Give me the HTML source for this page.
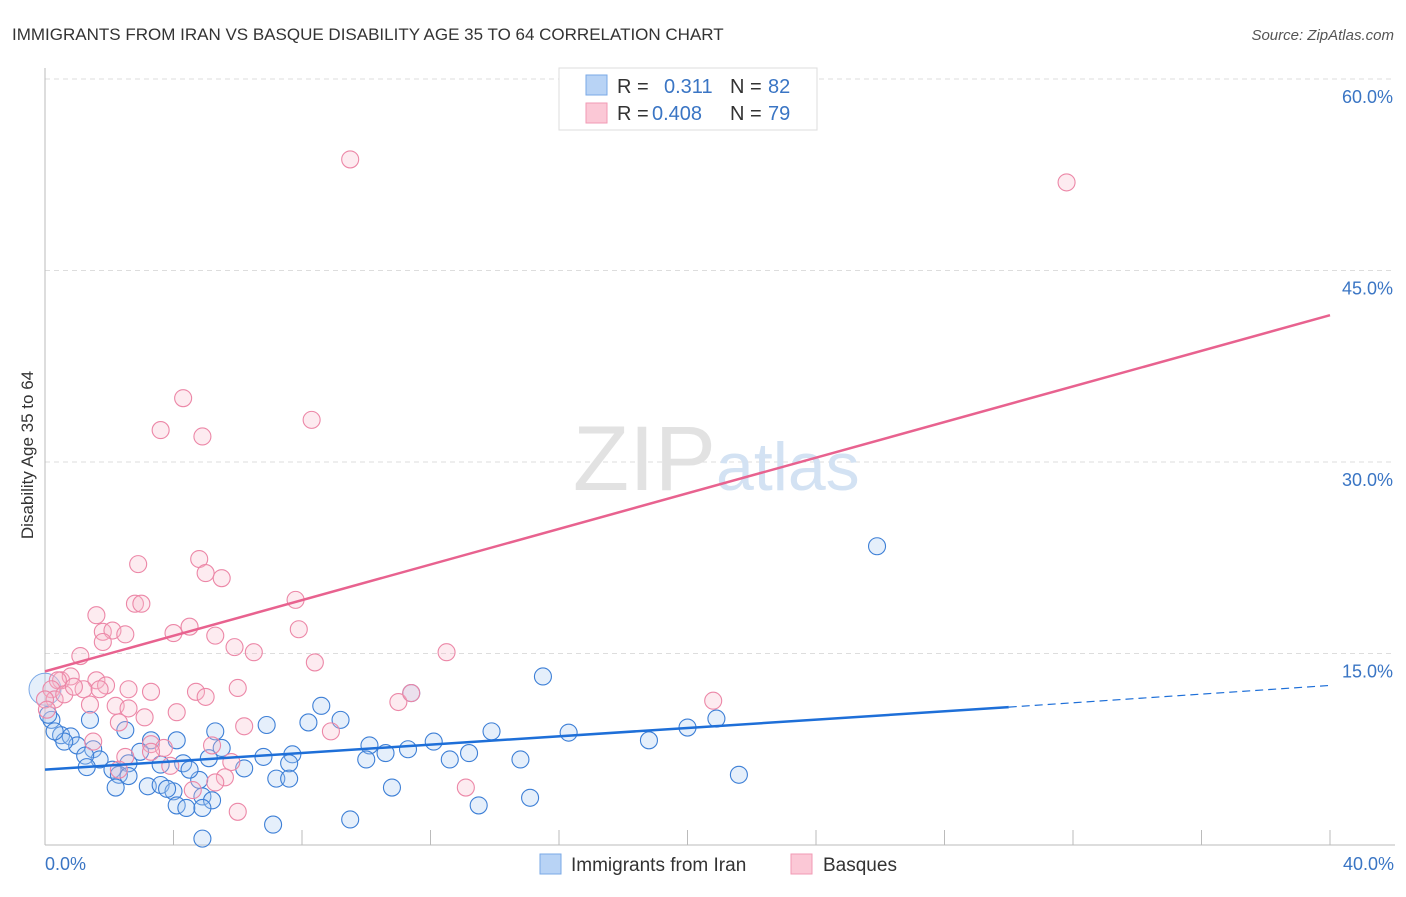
<!DOCTYPE html>
<html><head><meta charset="utf-8">
<style>
body{margin:0;background:#fff;font-family:"Liberation Sans",sans-serif;}
svg text{font-family:"Liberation Sans",sans-serif;}
</style></head>
<body>
<svg id="chart" width="1406" height="892" viewBox="0 0 1406 892" xmlns="http://www.w3.org/2000/svg">
<text x="12" y="40" font-size="17" fill="#333">IMMIGRANTS FROM IRAN VS BASQUE DISABILITY AGE 35 TO 64 CORRELATION CHART</text>
<text x="1394" y="40" font-size="15" fill="#555" font-style="italic" text-anchor="end">Source: ZipAtlas.com</text>
<g id="grid"></g>
<text x="716" y="490" font-size="92" fill="#e2e2e2" text-anchor="end" font-family="Liberation Serif">ZIP</text>
<text x="716" y="490" font-size="68" fill="#d3e2f3">atlas</text>
<g id="axes"></g>
<g id="blue"></g>
<g id="pink"></g>
<g id="lines"></g>
<text transform="translate(33,455) rotate(-90)" font-size="17" fill="#333" text-anchor="middle">Disability Age 35 to 64</text>
<text x="45" y="870" font-size="18" fill="#3a75c4">0.0%</text>
<text x="1394" y="870" font-size="18" fill="#3a75c4" text-anchor="end">40.0%</text>
<g>
<rect x="559" y="68" width="258" height="62" fill="#fff" stroke="#ddd"/>
<rect x="586" y="75" width="21" height="20" fill="#b8d3f5" stroke="#7aa8e6"/>
<rect x="586" y="103" width="21" height="20" fill="#fbc8d6" stroke="#f29ab4"/>
<text x="617" y="93" font-size="20" fill="#333">R = </text><text x="664" y="93" font-size="20" fill="#3a75c4">0.311</text>
<text x="730" y="93" font-size="20" fill="#333">N = </text><text x="768" y="93" font-size="20" fill="#3a75c4">82</text>
<text x="617" y="120" font-size="20" fill="#333">R = </text><text x="652" y="120" font-size="20" fill="#3a75c4">0.408</text>
<text x="730" y="120" font-size="20" fill="#333">N = </text><text x="768" y="120" font-size="20" fill="#3a75c4">79</text>
</g>
<g>
<rect x="540" y="854" width="21" height="20" fill="#b8d3f5" stroke="#7aa8e6"/>
<text x="571" y="871" font-size="19" fill="#333">Immigrants from Iran</text>
<rect x="791" y="854" width="21" height="20" fill="#fbc8d6" stroke="#f29ab4"/>
<text x="823" y="871" font-size="19" fill="#333">Basques</text>
</g>
</svg>
<script>
const yTicks=[15,30,45,60];
const yTickLabels=["15.0%","30.0%","45.0%","60.0%"];
const xTicks=[0,4,8,12,16,20,24,28,32,36,40];
const iranX=[25.9,15.5,11.4,8.6,20.9,6.9,8.2,9.2,13.9,16.3,20.0,1.4,0.2,5.3,2.5,0.5,0.8,18.8,12.1,10.1,11.3,10.6,13.2,10.0,12.6,14.8,7.7,6.8,5.5,4.1,3.3,2.96,1.5,1.7,1.0,0.6,1.25,5.1,4.3,3.6,2.6,2.1,2.3,1.3,6.2,7.6,7.2,7.6,4.8,4.5,2.6,2.2,3.2,3.6,4.0,3.8,4.9,5.2,4.1,4.4,4.9,10.8,13.5,15.1,21.6,9.5,7.1,4.9,0.1,0.3];
const iranY=[23.4,13.2,11.9,10.9,9.9,9.4,9.6,9.8,8.9,8.8,9.2,9.8,9.8,8.9,9.0,8.6,8.5,8.2,8.1,7.8,7.5,7.2,7.2,6.7,6.7,6.7,7.1,6.9,7.6,8.2,8.2,7.3,7.5,6.7,7.8,8.1,7.0,6.8,6.4,6.3,6.4,5.9,5.5,6.1,6.0,6.4,5.2,5.2,5.1,5.9,5.4,4.5,4.6,4.7,4.2,4.4,3.8,3.5,3.1,2.9,2.9,4.5,3.1,3.7,5.5,2.0,1.6,0.5,10.2,8.9];
const basqueX=[9.5,31.8,4.3,8.3,3.6,4.9,4.8,2.9,5.0,5.5,7.8,2.8,3.0,1.6,4.5,7.9,1.8,2.1,2.5,4.0,5.3,1.8,5.9,6.5,12.5,1.1,8.4,0.5,0.8,1.6,1.9,2.6,3.3,4.7,5.0,6.0,11.0,11.4,20.8,1.4,2.2,2.6,3.1,4.1,2.3,6.2,8.9,0.4,0.2,0.3,0.6,1.2,1.7,0.9,1.5,3.3,5.2,3.7,2.5,3.3,5.8,2.3,5.6,4.6,5.3,6.0,13.1,3.9,0,0.06];
const basqueY=[53.7,51.9,35.0,33.3,32.5,32.0,22.4,22.0,21.3,20.9,19.2,18.9,18.9,18.0,17.1,16.9,16.7,16.8,16.5,16.6,16.4,15.9,15.5,15.1,15.1,14.8,14.3,12.9,13.2,12.9,12.5,12.2,12.0,12.0,11.6,12.3,11.2,11.9,11.3,11.0,10.9,10.7,10.0,10.4,9.6,9.3,8.9,12.9,12.2,11.4,11.8,12.2,12.2,12.4,8.1,7.9,7.8,7.6,6.9,7.3,6.5,5.9,5.3,4.3,4.9,2.6,4.5,6.2,11.4,10.6];
const iranTrend=[5.9,10.8,12.5];
const iranTrendX=[0,30,40];
const basqueTrend=[13.6,41.5];
const basqueTrendX=[0,40];
const NS="http://www.w3.org/2000/svg";
const X=v=>45+v/40*1285, Y=v=>845-v/15*191.5;
function mk(tag,attrs,parent){const e=document.createElementNS(NS,tag);for(const k in attrs)e.setAttribute(k,attrs[k]);parent.appendChild(e);return e;}
const grid=document.getElementById('grid');
yTicks.forEach((t,i)=>{
  const l=mk('line',{x1:45,x2:1393,y1:Y(t),y2:Y(t),stroke:'#ddd','stroke-dasharray':'5,4'},grid);
  
  
  const tx=mk('text',{x:1393,y:Y(t)+24,'font-size':18,fill:'#3a75c4','text-anchor':'end'},grid);
  tx.textContent=yTickLabels[i];
  
  
});
const axes=document.getElementById('axes');
mk('line',{x1:45,x2:45,y1:68,y2:845,stroke:'#bbb'},axes);
mk('line',{x1:45,x2:1395,y1:845,y2:845,stroke:'#bbb'},axes);
xTicks.forEach(t=>{const l=mk('line',{x1:X(t),x2:X(t),y1:830,y2:845,stroke:'#bbb'},axes);
  
  });
function pts(xs,ys,g,fill,stroke,name){
  xs.forEach((x,i)=>{const c=mk('circle',{cx:X(x),cy:Y(ys[i]),r:8.5,fill:fill,'fill-opacity':0.3,stroke:stroke,'stroke-width':1.1},g);
    
    });
}
pts(iranX,iranY,document.getElementById('blue'),'#a9c9f2','#3d7fd6','iran-point');
pts(basqueX,basqueY,document.getElementById('pink'),'#f8bccd','#ec87a7','basque-point');
const bigc=mk('circle',{cx:X(0),cy:Y(12.2),r:16,fill:'#a9c9f2','fill-opacity':0.3,stroke:'#7aa8e6','stroke-width':1},document.getElementById('blue'));


const lines=document.getElementById('lines');
const pl=mk('line',{x1:X(basqueTrendX[0]),y1:Y(basqueTrend[0]),x2:X(basqueTrendX[1]),y2:Y(basqueTrend[1]),stroke:'#e8628f','stroke-width':2.5},lines);


const bl=mk('line',{x1:X(iranTrendX[0]),y1:Y(iranTrend[0]),x2:X(iranTrendX[1]),y2:Y(iranTrend[1]),stroke:'#1e6fd8','stroke-width':2.5},lines);


const bd=mk('line',{x1:X(iranTrendX[1]),y1:Y(iranTrend[1]),x2:X(iranTrendX[2]),y2:Y(iranTrend[2]),stroke:'#1e6fd8','stroke-width':1.2,'stroke-dasharray':'8,5'},lines);


</script>
</body></html>
